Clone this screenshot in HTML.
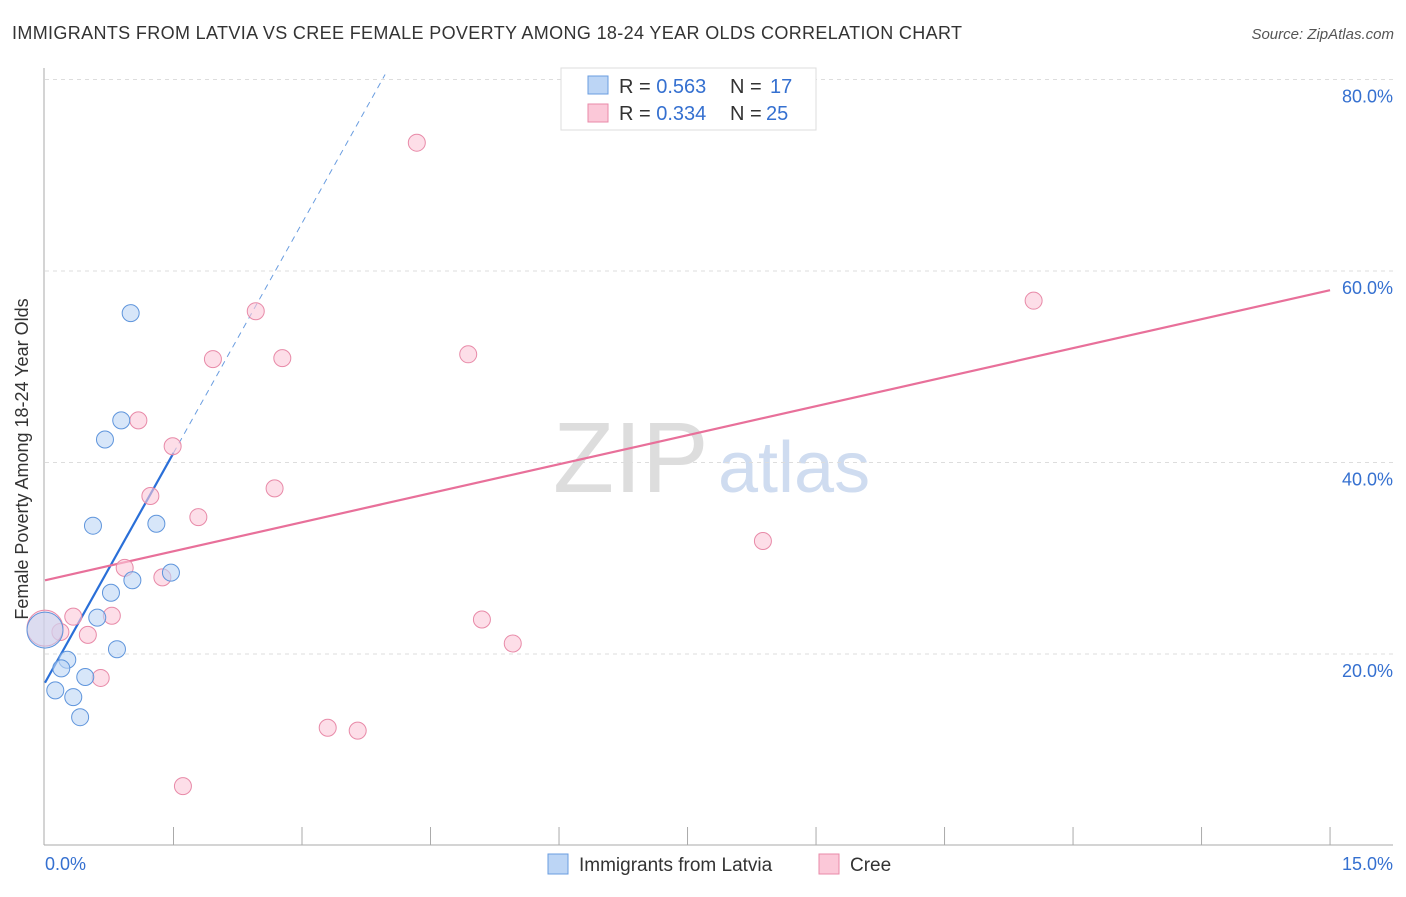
<!DOCTYPE html>
<html><head><meta charset="utf-8"><style>
body{margin:0;background:#fff;font-family:"Liberation Sans",sans-serif;}
svg text{font-family:"Liberation Sans",sans-serif;}
</style></head><body>
<svg id="c" width="1406" height="892" xmlns="http://www.w3.org/2000/svg">
<text x="12" y="39" font-size="18" fill="#333" textLength="950">IMMIGRANTS FROM LATVIA VS CREE FEMALE POVERTY AMONG 18-24 YEAR OLDS CORRELATION CHART</text>
<text x="1394" y="39" font-size="15" fill="#555" text-anchor="end" font-style="italic">Source: ZipAtlas.com</text>
<text x="25" y="456" font-size="18" fill="#333" text-anchor="middle" transform="rotate(-90 28 456)">Female Poverty Among 18-24 Year Olds</text>
<text x="553" y="492" font-size="100" fill="#ddd" font-family="Liberation Serif">ZIP</text>
<text x="718" y="492" font-size="72" fill="#cfdcf0">atlas</text>
<g id="grid"></g><g id="axes"></g><g id="lines"></g><g id="pts"></g>
<g>
<rect x="561" y="68" width="255" height="62" fill="#fff" stroke="#ddd"/>
<rect x="588" y="76" width="20" height="18" fill="#bcd5f5" stroke="#6a9de0"/>
<rect x="588" y="104" width="20" height="18" fill="#fbc8d8" stroke="#e88aa8"/>
<text x="619" y="93" font-size="20" fill="#333">R = <tspan fill="#3570d0">0.563</tspan></text>
<text x="730" y="93" font-size="20" fill="#333">N = <tspan x="770" fill="#3570d0">17</tspan></text>
<text x="619" y="120" font-size="20" fill="#333">R = <tspan fill="#3570d0">0.334</tspan></text>
<text x="730" y="120" font-size="20" fill="#333">N = <tspan x="766" fill="#3570d0">25</tspan></text>
</g>
<g>
<rect x="548" y="854" width="20" height="20" fill="#bcd5f5" stroke="#6a9de0"/>
<text x="579" y="871" font-size="19" fill="#333">Immigrants from Latvia</text>
<rect x="819" y="854" width="20" height="20" fill="#fbc8d8" stroke="#e88aa8"/>
<text x="850" y="871" font-size="19" fill="#333">Cree</text>
</g>
<text x="45" y="870" font-size="18" fill="#3570d0">0.0%</text>
<text x="1393" y="870" font-size="18" fill="#3570d0" text-anchor="end">15.0%</text>
</svg>
<script>
const yTicks=[20,40,60,80];
const latX=[1.00,0.89,0.70,0.56,1.30,1.47,1.02,0.77,0.61,0.84,0.26,0.19,0.47,0.12,0.33,0.41,0.0];
const latY=[55.6,44.4,42.4,33.4,33.6,28.5,27.7,26.4,23.8,20.5,19.4,18.5,17.6,16.2,15.5,13.4,22.5];
const creeX=[4.34,2.46,1.96,2.77,4.94,1.09,1.49,1.23,2.68,1.79,0.93,1.37,0.78,0.33,0.50,0.18,5.10,5.46,8.38,11.54,0.65,3.30,3.65,1.61,0.0];
const creeY=[73.4,55.8,50.8,50.9,51.3,44.4,41.7,36.5,37.3,34.3,29.0,28.0,24.0,23.9,22.0,22.3,23.6,21.1,31.8,56.9,17.5,12.3,12.0,6.2,22.7];
const latTrend=[17.0,16.0]; // intercept, slope
const creeTrend=[27.7,2.02];
const NS="http://www.w3.org/2000/svg";
const sx=v=>45+v*85.67, sy=v=>845.5-v*9.575;
function mk(tag,at,parent){const e=document.createElementNS(NS,tag);for(const k in at)e.setAttribute(k,at[k]);document.getElementById(parent).appendChild(e);return e;}
yTicks.forEach(t=>{
 const l=mk('line',{x1:45,x2:1393,y1:sy(t),y2:sy(t),stroke:'#ddd','stroke-dasharray':'4,4'},'grid');
 
 
 const tx=mk('text',{x:1393,y:sy(t)+23,'font-size':18,fill:'#3570d0','text-anchor':'end'},'grid');
 tx.textContent=t.toFixed(1)+'%';
 
 
});
const ax=mk('line',{x1:44,x2:44,y1:68,y2:845,stroke:'#aaa'},'axes');


const bx=mk('line',{x1:44,x2:1393,y1:845,y2:845,stroke:'#aaa'},'axes');


for(let i=1;i<=10;i++){const t=mk('line',{x1:sx(i*1.5),x2:sx(i*1.5),y1:827,y2:845,stroke:'#aaa'},'axes');
 
 }
function trend(tr,x0,x1,col,w,dash,name){const a={x1:sx(x0),x2:sx(x1),y1:sy(tr[0]+tr[1]*x0),y2:sy(tr[0]+tr[1]*x1),stroke:col,'stroke-width':w};if(dash)a['stroke-dasharray']=dash;
 const l=mk('line',a,'lines');
 
 }
trend(latTrend,1.5,3.97,'#6a9de0',1,'6,5','latvia-trend-extension');
trend(latTrend,0,1.5,'#2a6fd8',2.2,null,'latvia-trend-line');
trend(creeTrend,0,15,'#e8709a',2.2,null,'cree-trend-line');
function pts(xs,ys,fill,stroke,name){xs.forEach((x,i)=>{const big=(x===0);
 const c=mk('circle',{cx:sx(x),cy:sy(ys[i]),r:big?18:8.5,fill:fill,'fill-opacity':big?0.5:0.6,stroke:stroke,'stroke-width':1},'pts');
 
 });}
pts(creeX,creeY,'#fbc8d8','#e88aa8','cree-point');
pts(latX,latY,'#bcd5f5','#5f95dc','latvia-point');
</script>
</body></html>
